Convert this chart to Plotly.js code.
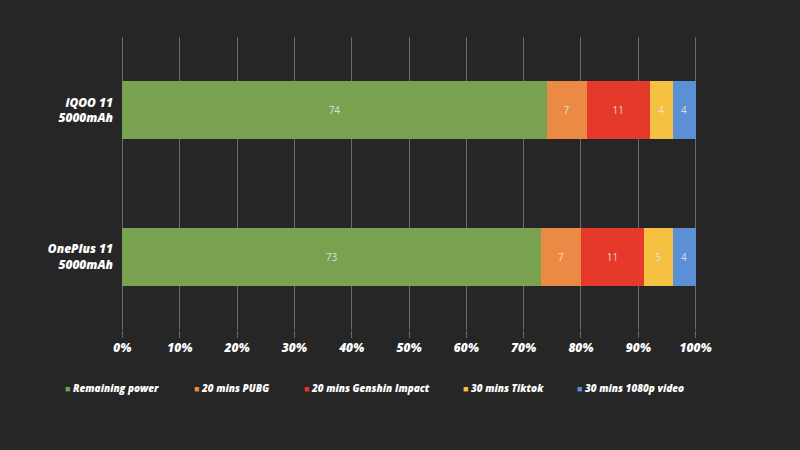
<!DOCTYPE html>
<html>
<head>
<meta charset="utf-8">
<script src="https://cdn.plot.ly/plotly-3.0.1.min.js"></script>
<style>html,body{margin:0;padding:0;background:#262626;}#chart{width:800px;height:450px;}</style>
</head>
<body>
<div id="chart"></div>
<script>
const categories = ["iQOO 11<br>5000mAh", "OnePlus 11<br>5000mAh"];
const seriesNames = ["Remaining power", "20 mins PUBG", "20 mins Genshin Impact", "30 mins Tiktok", "30 mins 1080p video"];
const remaining = [74, 73];
const pubg = [7, 7];
const genshin = [11, 11];
const tiktok = [4, 5];
const video = [4, 4];
const xTickVals = [0, 10, 20, 30, 40, 50, 60, 70, 80, 90, 100];
const xTickText = ["0%", "10%", "20%", "30%", "40%", "50%", "60%", "70%", "80%", "90%", "100%"];

const colors = ["#78A24F", "#EB8A44", "#E5392A", "#F6C142", "#5B8FD6"];
const values = [remaining, pubg, genshin, tiktok, video];

const traces = values.map((v, i) => ({
  type: 'bar',
  orientation: 'h',
  name: seriesNames[i],
  y: categories,
  x: v,
  text: v.map(String),
  textposition: 'inside',
  insidetextanchor: 'middle',
  textangle: 0,
  textfont: {family: 'Open Sans, sans-serif', size: 10, color: 'rgba(235,235,235,0.85)'},
  marker: {color: colors[i], line: {width: 0}},
  hoverinfo: 'none',
  showlegend: false
}));

// legend drawn as text entries (small square + label), positioned like the reference
const legendPx = [63, 192, 302, 461, 575];
const PL = 121, PW = 576;
const annotations = seriesNames.map((n, i) => ({
  xref: 'paper', yref: 'paper',
  x: (legendPx[i] - PL) / PW,
  y: -0.197,
  xanchor: 'left', yanchor: 'middle',
  showarrow: false,
  text: '<span style="color:' + colors[i] + ';font-size:9px">■</span> ' + n,
  font: {family: 'Open Sans, sans-serif', size: 10, color: '#ffffff', weight: 800, style: 'italic'}
}));

const layout = {
  width: 800, height: 450,
  paper_bgcolor: '#262626',
  plot_bgcolor: '#262626',
  barmode: 'stack',
  bargap: 0.605,
  margin: {l: 121, r: 103, t: 37, b: 120},
  font: {family: 'Open Sans, sans-serif', color: '#ffffff'},
  xaxis: {
    range: [-0.25, 100.25],
    tickvals: xTickVals,
    ticktext: xTickText,
    showgrid: true,
    gridcolor: '#6a6a6a',
    gridwidth: 1,
    zeroline: false,
    ticks: 'outside',
    ticklen: 7,
    tickcolor: '#6a6a6a',
    tickfont: {family: 'Open Sans, sans-serif', size: 12, color: '#ffffff', weight: 800, style: 'italic'},
    fixedrange: true
  },
  yaxis: {
    type: 'category',
    autorange: 'reversed',
    showgrid: false,
    zeroline: false,
    showline: false,
    ticks: '',
    ticklabelstandoff: 7,
    tickfont: {family: 'Open Sans, sans-serif', size: 12, color: '#ffffff', weight: 800, style: 'italic'},
    fixedrange: true
  },
  showlegend: false,
  annotations: annotations
};

Plotly.newPlot('chart', traces, layout, {staticPlot: true, displayModeBar: false});
</script>
</body>
</html>
